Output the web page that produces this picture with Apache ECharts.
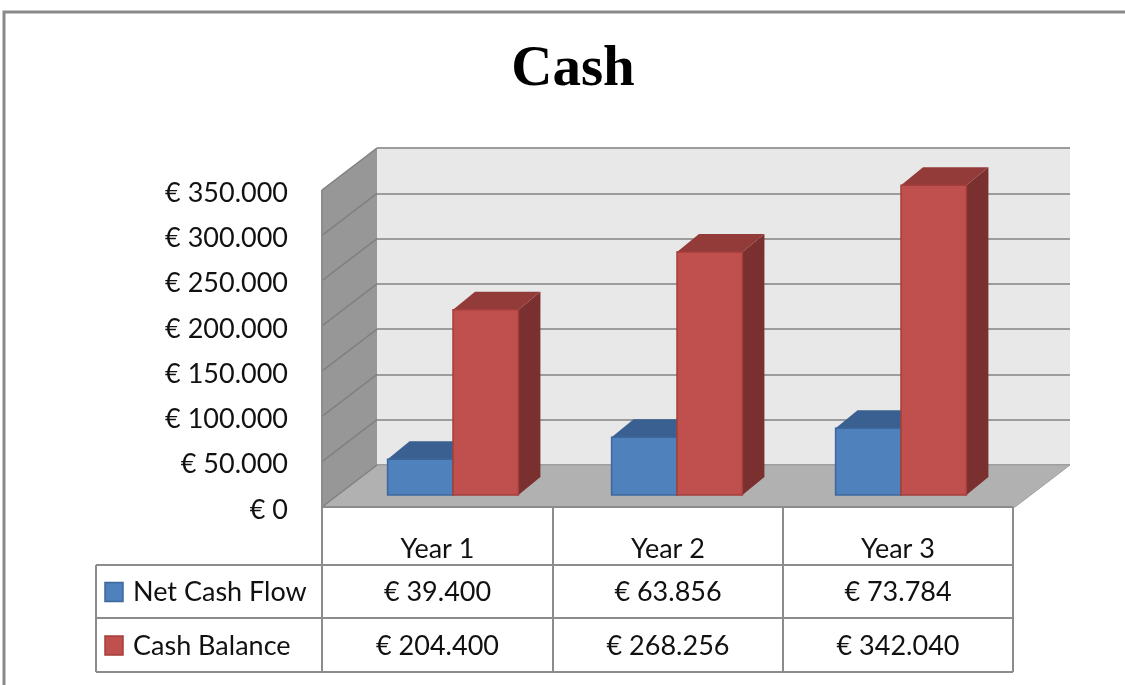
<!DOCTYPE html>
<html>
<head>
<meta charset="utf-8">
<script src="https://cdn.jsdelivr.net/npm/echarts@6/dist/echarts.min.js"></script>
<style>
  html, body { margin: 0; padding: 0; background: #fff; }
  #main { width: 1125px; height: 685px; }
</style>
</head>
<body>
<div id="main"></div>
<script>
var chartDom = document.getElementById('main');
var myChart = echarts.init(chartDom);
var option;

// data
const years = ['Year 1', 'Year 2', 'Year 3'];
const seriesNames = ['Net Cash Flow', 'Cash Balance'];
const netCashFlow = [39400, 63856, 73784];
const cashBalance = [204400, 268256, 342040];
const yMax = 350000;
const yStep = 50000;

const FONT = 'Lato, "Open Sans", sans-serif';
const blue = { front: '#4f81bd', top: '#3a6091', side: '#2e4f78', border: '#3b679c' };
const red = { front: '#c0504d', top: '#933b39', side: '#7a302e', border: '#a33f3c' };

// 3d offsets
const WALL_DX = -55, WALL_DY = 42;   // back wall -> front edge
const BAR_DX = 22, BAR_DY = -18;     // bar front -> bar back

function euro(v) {
    return '€ ' + String(v).replace(/\B(?=(\d{3})+(?!\d))/g, '.');
}

const yTicks = [];
for (let v = 0; v <= yMax; v += yStep) yTicks.push(v);

function barRender(colors, side) {
    return function (params, api) {
        const top = api.coord([api.value(0), api.value(1)]);
        const base = api.coord([api.value(0), 0]);
        const bw = api.size([1, 0])[0] * 0.292;
        const x0 = side === 0 ? top[0] - bw : top[0];
        const x1 = x0 + bw;
        const yt = top[1], yb = base[1];
        return {
            type: 'group',
            children: [
                {
                    type: 'polygon',
                    shape: { points: [[x1, yt], [x1 + BAR_DX, yt + BAR_DY], [x1 + BAR_DX, yb + BAR_DY], [x1, yb]] },
                    style: { fill: colors.side }
                },
                {
                    type: 'polygon',
                    shape: { points: [[x0, yt], [x0 + BAR_DX, yt + BAR_DY], [x1 + BAR_DX, yt + BAR_DY], [x1, yt]] },
                    style: { fill: colors.top }
                },
                {
                    type: 'rect',
                    shape: { x: x0, y: yt, width: bw, height: yb - yt },
                    style: { fill: colors.front, stroke: colors.border, lineWidth: 1.5 }
                }
            ]
        };
    };
}

// table layout
const tableLeft = 96;
const cols = [322, 553, 783, 1013];
const rowY = [507, 565, 618, 672];
const lineColor = '#8c8c8c';

const graphics = [];
graphics.push({
    type: 'rect', shape: { x: 4, y: 12, width: 1140, height: 690 },
    style: { fill: null, stroke: '#8a8a8a', lineWidth: 3 }, silent: true
});
graphics.push({
    type: 'text', x: 573, y: 70,
    style: { text: 'Cash', font: 'bold 57px "Liberation Serif", serif', fill: '#000', textAlign: 'center', textVerticalAlign: 'middle' }
});
function hline(y, xa, xb) {
    graphics.push({ type: 'line', shape: { x1: xa, y1: y, x2: xb, y2: y }, style: { stroke: lineColor, lineWidth: 2 }, z: 10 });
}
function vline(x, ya, yb) {
    graphics.push({ type: 'line', shape: { x1: x, y1: ya, x2: x, y2: yb }, style: { stroke: lineColor, lineWidth: 2 }, z: 10 });
}
hline(rowY[0], cols[0], cols[3]);
hline(rowY[1], tableLeft, cols[3]);
hline(rowY[2], tableLeft, cols[3]);
hline(rowY[3], tableLeft, cols[3]);
vline(tableLeft, rowY[1], rowY[3]);
vline(cols[0], 190, rowY[3]);
vline(cols[1], rowY[0], rowY[3]);
vline(cols[2], rowY[0], rowY[3]);
vline(cols[3], rowY[0], rowY[3]);

function cellText(text, x, y, align) {
    graphics.push({
        type: 'text', x: x, y: y, z: 10,
        style: { text: text, font: '27px ' + FONT, fill: '#111', textAlign: align || 'center', textVerticalAlign: 'middle' }
    });
}
years.forEach((y, i) => cellText(y, (cols[i] + cols[i + 1]) / 2, 549));
[netCashFlow, cashBalance].forEach((vals, r) => {
    const cy = (rowY[r + 1] + rowY[r + 2]) / 2 + 1;
    const c = r === 0 ? blue : red;
    graphics.push({
        type: 'rect', z: 10, shape: { x: 105, y: cy - 10, width: 18, height: 19 },
        style: { fill: c.front, stroke: c.border, lineWidth: 1.5 }
    });
    cellText(seriesNames[r], 133, cy, 'left');
    vals.forEach((v, i) => cellText(euro(v), (cols[i] + cols[i + 1]) / 2, cy));
});

option = {
    animation: false,
    backgroundColor: '#fff',
    grid: [
        // back wall
        { left: 377, top: 148, width: 693, height: 317, show: true, backgroundColor: '#e8e8e8', borderWidth: 0 },
        // front plane (axis labels)
        { left: 322, top: 193, width: 691, height: 317, show: false },
        // bar plane
        { left: 341, top: 178, width: 672, height: 317, show: false }
    ],
    xAxis: [
        { type: 'category', gridIndex: 0, data: years, show: false },
        { type: 'category', gridIndex: 1, data: years, show: false },
        { type: 'category', gridIndex: 2, data: years, show: false }
    ],
    yAxis: [
        {
            type: 'value', gridIndex: 0, min: 0, max: yMax, interval: yStep,
            axisLine: { show: false }, axisTick: { show: false }, axisLabel: { show: false },
            splitLine: { show: true, lineStyle: { color: '#9c9c9c', width: 2 } }
        },
        {
            type: 'value', gridIndex: 1, min: 0, max: yMax, interval: yStep,
            axisLine: { show: false }, axisTick: { show: false }, splitLine: { show: false },
            axisLabel: { margin: 34, fontSize: 27, fontFamily: FONT, color: '#111', formatter: euro }
        },
        { type: 'value', gridIndex: 2, min: 0, max: yMax, show: false, splitLine: { show: false } }
    ],
    graphic: graphics,
    series: [
        {
            name: 'walls',
            type: 'custom',
            xAxisIndex: 0, yAxisIndex: 0,
            silent: true,
            z: 1,
            data: [[0, 0]],
            renderItem: function (params, api) {
                const cs = params.coordSys;
                const l = cs.x, t = cs.y, r = cs.x + cs.width, b = cs.y + cs.height;
                return {
                    type: 'group',
                    children: [
                        {
                            type: 'polygon',
                            shape: { points: [[l, t], [l, b], [l + WALL_DX, b + WALL_DY], [l + WALL_DX, t + WALL_DY]] },
                            style: { fill: '#979797' }
                        },
                        {
                            type: 'polygon',
                            shape: { points: [[l, b], [r, b], [r + WALL_DX, b + WALL_DY], [l + WALL_DX, b + WALL_DY]] },
                            style: { fill: '#b1b1b1', stroke: '#a0a0a0', lineWidth: 1 }
                        }
                    ]
                };
            }
        },
        {
            name: 'wallLines',
            type: 'custom',
            xAxisIndex: 0, yAxisIndex: 0,
            silent: true,
            z: 2,
            data: yTicks.map(v => [0, v]),
            renderItem: function (params, api) {
                const cs = params.coordSys;
                const p = api.coord([0, api.value(1)]);
                return {
                    type: 'line',
                    shape: { x1: cs.x, y1: p[1], x2: cs.x + WALL_DX, y2: p[1] + WALL_DY },
                    style: { stroke: '#808080', lineWidth: 1.5 }
                };
            }
        },
        {
            name: seriesNames[0],
            type: 'custom',
            xAxisIndex: 2, yAxisIndex: 2,
            z: 3,
            data: netCashFlow.map((v, i) => [i, v]),
            renderItem: barRender(blue, 0)
        },
        {
            name: seriesNames[1],
            type: 'custom',
            xAxisIndex: 2, yAxisIndex: 2,
            z: 4,
            data: cashBalance.map((v, i) => [i, v]),
            renderItem: barRender(red, 1)
        }
    ]
};

option && myChart.setOption(option);
</script>
</body>
</html>
